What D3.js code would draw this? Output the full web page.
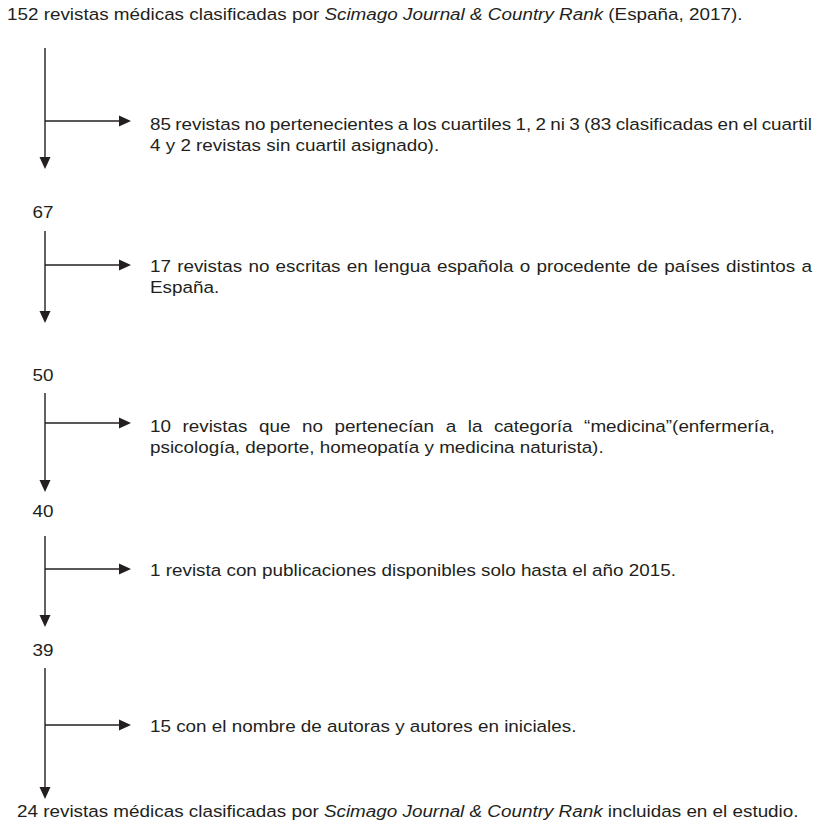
<!DOCTYPE html>
<html>
<head>
<meta charset="utf-8">
<script src="https://cdn.jsdelivr.net/npm/d3@7"></script>
<style>
  body { margin: 0; background: #fff; }
</style>
</head>
<body>
<div id="chart"></div>
<script>
const width = 815;
const height = 820;

// journals left after each filtering step
const remaining = [152, 67, 50, 40, 39, 24];
// journals removed at each step
const excluded = [85, 17, 10, 1, 15];
// reason for each removal, split as printed
const reasons = [
    ["revistas no pertenecientes a los cuartiles 1, 2 ni 3 (83 clasificadas en el cuartil",
     "4 y 2 revistas sin cuartil asignado)."],
    ["revistas no escritas en lengua española o procedente de países distintos a",
     "España."],
    ["revistas que no pertenecían a la categoría “medicina”(enfermería,",
     "psicología, deporte, homeopatía y medicina naturista)."],
    ["revista con publicaciones disponibles solo hasta el año 2015."],
    ["con el nombre de autoras y autores en iniciales."]
];
const sourceName = "Scimago Journal & Country Rank";
const headText = [`${remaining[0]} revistas médicas clasificadas por `, sourceName, " (España, 2017)."];
const footText = [`${remaining[5]} revistas médicas clasificadas por `, sourceName, " incluidas en el estudio."];

// layout of the flow (pixels)
const lineX = 45, arrowEnd = 131, textX = 150, lineGap = 21.5;
const steps = [
    { top: 48,  arrow: 121, tip: 169, text: 124, justify: 812 },
    { top: 231, arrow: 265, tip: 323, text: 266, justify: 812 },
    { top: 393, arrow: 423, tip: 492, text: 426, justify: 775 },
    { top: 536, arrow: 569, tip: 627, text: 570 },
    { top: 668, arrow: 725, tip: 799, text: 726 }
];
const countY = [14, 212, 375, 511, 650, 811];
const ink = "#231f20";
const fontSize = 17;
const squeeze = 1.11; // printed face runs a little wider than Arial

const svg = d3.select("#chart").append("svg")
    .attr("width", width)
    .attr("height", height)
    .attr("viewBox", [0, 0, width, height])
    .style("font-family", "'Liberation Sans', Arial, sans-serif")
    .style("font-size", fontSize + "px");

// helper to measure a string in the base font
const probe = svg.append("text").attr("x", -1000).attr("y", -1000);
function measure(str, italic) {
    probe.attr("font-style", italic ? "italic" : "normal").text(str);
    return probe.node().getComputedTextLength();
}

function plainLine(x, y, parts) {
    const t = svg.append("text")
        .attr("transform", `translate(${x},${y}) scale(${squeeze},1)`)
        .attr("dy", "0.35em")
        .attr("fill", ink);
    parts.forEach((p, i) => {
        t.append("tspan")
            .attr("font-style", i === 1 && parts.length === 3 ? "italic" : "normal")
            .text(p);
    });
}

function justifiedLine(x, y, str, right) {
    const words = str.split(" ");
    const widths = words.map(w => measure(w));
    const total = (right - x) / squeeze;
    const gap = (total - d3.sum(widths)) / (words.length - 1);
    const g = svg.append("g").attr("transform", `translate(${x},${y}) scale(${squeeze},1)`);
    let pos = 0;
    words.forEach((w, i) => {
        g.append("text").attr("x", pos).attr("dy", "0.35em").attr("fill", ink).text(w);
        pos += widths[i] + gap;
    });
}

// heading and closing line
plainLine(7, countY[0], headText);
plainLine(17, countY[5], footText);

// intermediate counts
svg.append("g")
    .selectAll("text")
    .data(remaining.slice(1, 5))
    .join("text")
    .attr("transform", (d, i) => `translate(${lineX - 2},${countY[i + 1]}) scale(${squeeze},1)`)
    .attr("dy", "0.35em")
    .attr("text-anchor", "middle")
    .attr("fill", ink)
    .text(d => d);

const head = 12, half = 5.5;

steps.forEach((s, i) => {
    // downward flow
    svg.append("line")
        .attr("x1", lineX).attr("x2", lineX)
        .attr("y1", s.top).attr("y2", s.tip - head + 1)
        .attr("stroke", ink).attr("stroke-width", 1.4);
    svg.append("path")
        .attr("d", `M${lineX - half},${s.tip - head}L${lineX + half},${s.tip - head}L${lineX},${s.tip}Z`)
        .attr("fill", ink);

    // side branch for excluded journals
    svg.append("line")
        .attr("x1", lineX).attr("x2", arrowEnd - head + 1)
        .attr("y1", s.arrow).attr("y2", s.arrow)
        .attr("stroke", ink).attr("stroke-width", 1.4);
    svg.append("path")
        .attr("d", `M${arrowEnd - head},${s.arrow - half}L${arrowEnd - head},${s.arrow + half}L${arrowEnd},${s.arrow}Z`)
        .attr("fill", ink);

    const lines = reasons[i].slice();
    lines[0] = `${excluded[i]} ${lines[0]}`;
    lines.forEach((ln, j) => {
        const y = s.text + j * lineGap;
        if (j === 0 && lines.length > 1 && s.justify) justifiedLine(textX, y, ln, s.justify);
        else plainLine(textX, y, [ln]);
    });
});

probe.remove();
</script>
</body>
</html>
